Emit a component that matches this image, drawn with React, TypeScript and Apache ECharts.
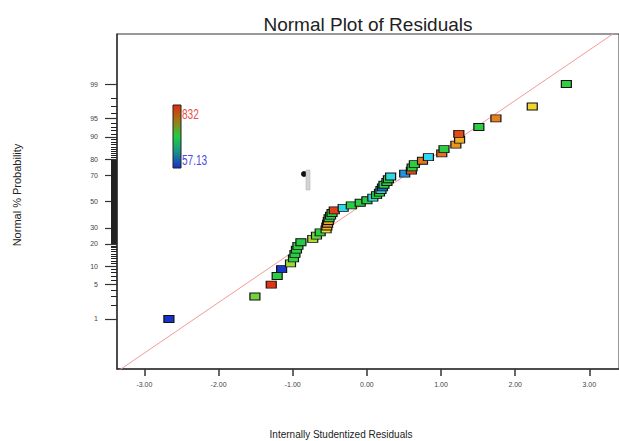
import React, { useEffect, useRef } from "react";
import * as echarts from "echarts";

// Normal % probability of each run
const probabilityPct = [
  1, 3, 5, 7, 9, 11, 13, 15, 17, 19, 21, 23, 25, 27, 29, 31, 33, 35, 37, 39, 41, 43, 45, 47, 49,
  51, 53, 55, 57, 59, 61, 63, 65, 67, 69, 71, 73, 75, 77, 79, 81, 83, 85, 87, 89, 91, 93, 95, 97, 99,
];
// Internally studentized residuals
const residuals = [
  -2.67, -1.51, -1.29, -1.21, -1.15, -1.03, -0.99, -0.97, -0.95, -0.93, -0.89, -0.73, -0.68, -0.63, -0.55,
  -0.54, -0.53, -0.52, -0.51, -0.49, -0.47, -0.44, -0.32, -0.21, -0.09, 0.0, 0.08, 0.13, 0.17, 0.19,
  0.21, 0.23, 0.27, 0.29, 0.32, 0.51, 0.6, 0.61, 0.64, 0.75, 0.83, 1.01, 1.04, 1.2, 1.25, 1.24, 1.51,
  1.74, 2.23, 2.69,
];
// Response value used for the point colour (57.13 .. 832)
const responses = [
  60, 520, 820, 450, 65, 560, 465, 450, 455, 460, 445, 580, 510, 455, 640, 680, 730, 700, 455, 450,
  450, 810, 260, 450, 455, 450, 270, 450, 455, 280, 120, 450, 455, 450, 270, 170, 800, 450, 455, 750,
  250, 760, 455, 720, 690, 800, 455, 740, 650, 460,
];
const majorProbTicks = [1, 5, 10, 20, 30, 50, 70, 80, 90, 95, 99];
const xTickValues = [-3, -2, -1, 0, 1, 2, 3];
const refLineEnds = [-3.6, 3.6];
const colorMin = 57.13;
const colorMax = 832;
const colorStops = ["#1530c8", "#30d8f0", "#22cc44", "#f0e030", "#e02a10"];

function normInv(p: number): number {
  const a = [-3.969683028665376e1, 2.209460984245205e2, -2.759285104469687e2, 1.38357751867269e2, -3.066479806614716e1, 2.506628277459239];
  const b = [-5.447609879822406e1, 1.615858368580409e2, -1.556989798598866e2, 6.680131188771972e1, -1.328068155288572e1];
  const c = [-7.784894002430293e-3, -3.223964580411365e-1, -2.400758277161838, -2.549732539343734, 4.374664141464968, 2.938163982698783];
  const d = [7.784695709041462e-3, 3.224671290700398e-1, 2.445134137142996, 3.754408661907416];
  const pLow = 0.02425;
  const pHigh = 1 - pLow;
  if (p < pLow) {
    const q = Math.sqrt(-2 * Math.log(p));
    return (((((c[0] * q + c[1]) * q + c[2]) * q + c[3]) * q + c[4]) * q + c[5]) / ((((d[0] * q + d[1]) * q + d[2]) * q + d[3]) * q + 1);
  }
  if (p <= pHigh) {
    const q = p - 0.5;
    const r = q * q;
    return ((((((a[0] * r + a[1]) * r + a[2]) * r + a[3]) * r + a[4]) * r + a[5]) * q) / (((((b[0] * r + b[1]) * r + b[2]) * r + b[3]) * r + b[4]) * r + 1);
  }
  const q = Math.sqrt(-2 * Math.log(1 - p));
  return -(((((c[0] * q + c[1]) * q + c[2]) * q + c[3]) * q + c[4]) * q + c[5]) / ((((d[0] * q + d[1]) * q + d[2]) * q + d[3]) * q + 1);
}

const zOf = (pct: number) => normInv(pct / 100);

function minorProbTicks(): number[] {
  const out: number[] = [];
  for (let p = 2; p < 20; p++) if (!majorProbTicks.includes(p)) out.push(p);
  for (let p = 20; p <= 80; p += 0.5) if (!majorProbTicks.includes(p)) out.push(p);
  for (let p = 81; p < 99; p++) if (!majorProbTicks.includes(p)) out.push(p);
  return out;
}

export default function App() {
  const ref = useRef<HTMLDivElement>(null);
  useEffect(() => {
    if (!ref.current) return;
    const chart = echarts.init(ref.current, null, { renderer: "svg" });
    const majorZ = majorProbTicks.map(zOf);
    const minorZ = minorProbTicks().map(zOf);
    const points = probabilityPct.map((p, i) => [residuals[i], zOf(p), responses[i]]);
    const yMin = -3.317;
    const yMax = 3.317;
    const font = "'Liberation Sans', Arial, sans-serif";

    chart.setOption({
      animation: false,
      backgroundColor: "#ffffff",
      grid: {
        left: 117,
        top: 34,
        width: 507.75,
        height: 335,
        show: true,
        borderColor: "#333",
        borderWidth: 1,
        backgroundColor: "transparent",
      },
      xAxis: {
        type: "value",
        min: -3.37,
        max: 3.4,
        position: "bottom",
        axisLine: { show: true, onZero: false, lineStyle: { color: "#333", width: 1.5 } },
        axisTick: { show: true, customValues: xTickValues, length: 7, inside: false, lineStyle: { color: "#333", width: 1.5 } },
        axisLabel: {
          customValues: xTickValues,
          formatter: (v: number) => v.toFixed(2),
          fontSize: 7,
          color: "#444",
          fontFamily: font,
          margin: 12,
        },
        splitLine: { show: false },
      },
      yAxis: [
        {
          type: "value",
          min: yMin,
          max: yMax,
          position: "left",
          axisLine: { show: true, onZero: false, lineStyle: { color: "#333", width: 1.5 } },
          axisTick: { show: true, customValues: majorZ, length: 12, lineStyle: { color: "#333", width: 1.2 } },
          axisLabel: {
            customValues: majorZ,
            formatter: (v: number) => {
              let best = majorProbTicks[0];
              let bd = Infinity;
              majorProbTicks.forEach((p) => {
                const d = Math.abs(zOf(p) - v);
                if (d < bd) {
                  bd = d;
                  best = p;
                }
              });
              return String(best);
            },
            fontSize: 7,
            color: "#444",
            fontFamily: font,
            margin: 19,
          },
          splitLine: { show: false },
        },
        {
          type: "value",
          min: yMin,
          max: yMax,
          position: "left",
          offset: 0,
          axisLine: { show: false, onZero: false },
          axisTick: { show: true, customValues: minorZ, length: 6, lineStyle: { color: "#222", width: 1 } },
          axisLabel: { show: false },
          splitLine: { show: false },
        },
      ],
      visualMap: {
        show: false,
        type: "continuous",
        dimension: 2,
        seriesIndex: 1,
        min: colorMin,
        max: colorMax,
        inRange: { color: colorStops },
      },
      series: [
        {
          type: "line",
          data: refLineEnds.map((v) => [v, v]),
          showSymbol: false,
          symbol: "none",
          clip: true,
          lineStyle: { color: "#f29a9a", width: 1 },
          silent: true,
          z: 1,
        },
        {
          type: "scatter",
          data: points,
          symbol: "rect",
          symbolSize: [10, 7],
          itemStyle: { borderColor: "#111", borderWidth: 1, opacity: 1 },
          z: 3,
        },
      ],
      graphic: [
        {
          type: "text",
          x: 368,
          y: 24,
          style: {
            text: "Normal Plot of Residuals",
            fontSize: 19,
            fontFamily: font,
            fill: "#222",
            align: "center",
            verticalAlign: "middle",
          },
        },
        {
          type: "text",
          x: 341,
          y: 434,
          style: {
            text: "Internally Studentized Residuals",
            fontSize: 10,
            fontFamily: font,
            fill: "#222",
            align: "center",
            verticalAlign: "middle",
          },
        },
        {
          type: "text",
          x: 17,
          y: 195,
          rotation: Math.PI / 2,
          style: {
            text: "Normal % Probability",
            fontSize: 11,
            fontFamily: font,
            fill: "#222",
            align: "center",
            verticalAlign: "middle",
          },
        },
        {
          type: "rect",
          shape: { x: 173, y: 105, width: 8, height: 63 },
          style: {
            fill: new echarts.graphic.LinearGradient(0, 0, 0, 1, [
              { offset: 0, color: colorStops[4] },
              { offset: 0.25, color: "#a07a10" },
              { offset: 0.5, color: colorStops[2] },
              { offset: 0.75, color: "#18908a" },
              { offset: 1, color: colorStops[0] },
            ]),
            stroke: "#222",
            lineWidth: 1,
          },
        },
        {
          type: "text",
          x: 182,
          y: 114,
          scaleX: 0.72,
          style: { text: "832", fontSize: 14, fontFamily: font, fill: "#e8504a", verticalAlign: "middle" },
        },
        {
          type: "text",
          x: 182,
          y: 160,
          scaleX: 0.72,
          style: { text: "57.13", fontSize: 14, fontFamily: font, fill: "#4a4ae0", verticalAlign: "middle" },
        },
        {
          type: "circle",
          shape: { cx: 304, cy: 174, r: 3 },
          style: { fill: "#111" },
        },
        {
          type: "rect",
          shape: { x: 306, y: 170, width: 4, height: 20 },
          style: { fill: "#d4d4d4", stroke: "#aaa", lineWidth: 0.5 },
        },
      ],
    });
    return () => chart.dispose();
  }, []);
  return <div ref={ref} style={{ position: "absolute", left: 0, top: 0, width: 619, height: 441 }} />;
}
